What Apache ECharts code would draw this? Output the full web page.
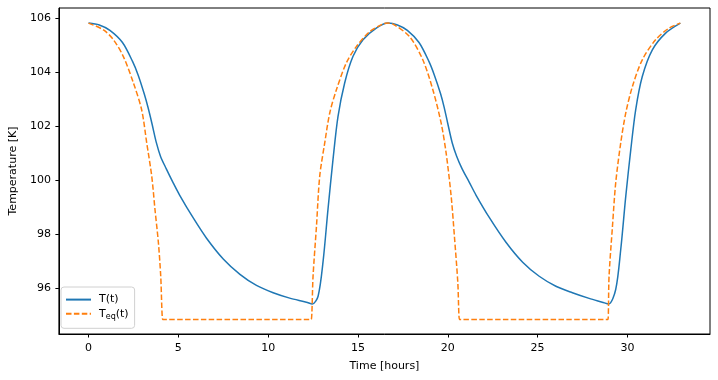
<!DOCTYPE html>
<html>
<head>
<meta charset="utf-8">
<script src="https://cdn.jsdelivr.net/npm/echarts@6/dist/echarts.min.js"></script>
<style>
  html, body { margin: 0; padding: 0; background: #fff; }
  #chart { width: 718px; height: 380px; }
</style>
</head>
<body>
<div id="chart"></div>
<script>
// T(t): surface temperature
const tTime = [0, 0.6, 1.19, 1.89, 2.45, 2.76, 3.1, 3.31, 3.53, 3.78, 4.01, 4.33, 4.7, 5.07, 5.83, 6.57, 7.5, 8.43, 9.35, 10.28, 11.2, 12.13, 12.46,
  12.78, 13.06, 13.33, 13.61, 13.89, 14.26, 14.72, 15.28, 16.02, 16.67, 17.2, 17.75, 18.4, 18.95, 19.25, 19.6, 19.8, 20.0, 20.25, 20.5, 20.8, 21.2, 21.57,
  22.31, 23.24, 24.17, 25.09, 26.02, 26.94, 27.87, 28.6, 28.96, 29.35, 29.63, 29.91, 30.19, 30.46, 30.83, 31.39, 32.13, 32.95]
const tTemp = [105.82, 105.75, 105.55, 105.1, 104.4, 103.9, 103.2, 102.7, 102.1, 101.38, 100.88, 100.42, 99.92, 99.45, 98.6, 97.85, 97.08, 96.51, 96.1, 95.83, 95.63, 95.48, 95.41,
  95.7, 97.0, 98.91, 100.76, 102.36, 103.6, 104.58, 105.2, 105.63, 105.82, 105.75, 105.55, 105.1, 104.4, 103.9, 103.2, 102.7, 102.1, 101.38, 100.88, 100.42, 99.92, 99.45,
  98.62, 97.7, 96.96, 96.44, 96.07, 95.83, 95.62, 95.48, 95.41, 95.95, 97.43, 99.4, 101.13, 102.6, 103.84, 104.83, 105.45, 105.82]

// Teq(t): equilibrium temperature
const eqTime = [0, 0.83, 1.39, 1.94, 2.5, 2.96, 3.24, 3.52, 3.7, 3.89, 4.02, 4.13, 4.2, 12.33, 12.4, 12.5, 12.69, 12.87, 13.15, 13.43, 13.8,
  14.35, 14.91, 15.65, 16.39, 16.67, 16.94, 17.87, 18.61, 19.17, 19.63, 19.91, 20.19, 20.37, 20.56, 20.65, 20.72, 28.85, 28.92,
  28.98, 29.17, 29.35, 29.63, 29.91, 30.28, 30.83, 31.57, 32.31, 32.95]
const eqTemp = [105.82, 105.57, 105.2, 104.58, 103.6, 102.6, 101.38, 100.14, 98.91, 97.68, 96.44, 94.84, 94.84, 94.84, 94.84, 96.44, 98.29, 100.14, 101.38, 102.49, 103.35,
  104.34, 104.95, 105.5, 105.79, 105.82, 105.79, 105.32, 104.46, 103.35, 102.12, 101.0, 99.4, 97.92, 96.2, 94.84, 94.84, 94.84, 94.84,
  96.44, 98.29, 99.9, 101.38, 102.49, 103.47, 104.46, 105.2, 105.63, 105.82]

const xTicks = [0, 5, 10, 15, 20, 25, 30]
const yTicks = [96, 98, 100, 102, 104, 106]

const font = 'DejaVu Sans'
const chart = echarts.init(document.getElementById('chart'))

chart.setOption({
  animation: false,
  grid: {
    left: 55,
    right: 8,
    top: 8,
    bottom: 46,
    show: true,
    borderColor: '#000',
    borderWidth: 1
  },
  legend: {
    orient: 'vertical',
    left: 61,
    top: 287,
    data: ['T(t)', 'Teq(t)'],
    itemWidth: 25,
    itemHeight: 14,
    itemGap: 3,
    padding: [7, 6, 7, 4],
    backgroundColor: 'rgba(255,255,255,0.8)',
    borderColor: '#d0d0d0',
    borderWidth: 1,
    borderRadius: 3,
    itemStyle: { opacity: 0 },
    formatter: name => name === 'Teq(t)' ? '{m|T}{s|eq}{m|(t)}' : '{m|' + name + '}',
    textStyle: {
      fontFamily: font,
      color: '#000',
      fontSize: 11,
      padding: [0, 0, 0, 3],
      rich: {
        m: { fontFamily: font, fontSize: 11, color: '#000', lineHeight: 15 },
        s: { fontFamily: font, fontSize: 8, color: '#000', lineHeight: 15, verticalAlign: 'bottom' }
      }
    }
  },
  xAxis: {
    type: 'value',
    min: -1.65,
    max: 34.6,
    name: 'Time [hours]',
    nameLocation: 'middle',
    nameGap: 27,
    nameTextStyle: { fontFamily: font, fontSize: 11, color: '#000' },
    splitLine: { show: false },
    axisLine: { show: true, onZero: false, lineStyle: { color: '#000', width: 1 } },
    axisTick: { show: true, length: 3.5, customValues: xTicks, lineStyle: { color: '#000' } },
    axisLabel: { customValues: xTicks, fontFamily: font, fontSize: 11, color: '#000', margin: 9 }
  },
  yAxis: {
    type: 'value',
    min: 94.3,
    max: 106.38,
    name: 'Temperature [K]',
    nameLocation: 'middle',
    nameGap: 37,
    nameTextStyle: { fontFamily: font, fontSize: 11, color: '#000' },
    splitLine: { show: false },
    axisLine: { show: true, onZero: false, lineStyle: { color: '#000', width: 1 } },
    axisTick: { show: true, length: 3.5, customValues: yTicks, lineStyle: { color: '#000' } },
    axisLabel: { customValues: yTicks, fontFamily: font, fontSize: 11, color: '#000', margin: 8 }
  },
  series: [
    {
      name: 'T(t)',
      type: 'line',
      data: tTime.map((t, i) => [t, tTemp[i]]),
      symbol: 'none',
      smooth: 0.3,
      itemStyle: { color: '#1f77b4' },
      lineStyle: { color: '#1f77b4', width: 1.5 }
    },
    {
      name: 'Teq(t)',
      type: 'line',
      data: eqTime.map((t, i) => [t, eqTemp[i]]),
      symbol: 'none',
      smooth: 0.3,
      itemStyle: { color: '#ff7f0e' },
      lineStyle: { color: '#ff7f0e', width: 1.5, type: [5.5, 2.4] }
    }
  ]
})
</script>
</body>
</html>
